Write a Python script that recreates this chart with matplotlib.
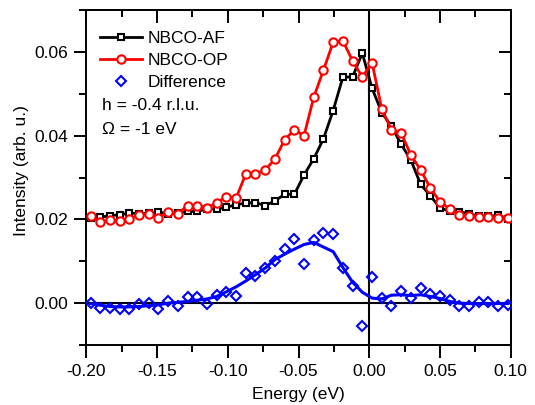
import matplotlib
matplotlib.use("Agg")
import matplotlib.pyplot as plt
from matplotlib.lines import Line2D
from matplotlib.ticker import MultipleLocator, FormatStrFormatter

plt.rcParams['font.family'] = ['Liberation Sans', 'DejaVu Sans']
plt.rcParams['axes.unicode_minus'] = False

energy = [-0.1970, -0.1901, -0.1833, -0.1764, -0.1696, -0.1627, -0.1558, -0.1490, -0.1421, -0.1353,
          -0.1284, -0.1215, -0.1147, -0.1078, -0.1010, -0.0941, -0.0872, -0.0804, -0.0735, -0.0667,
          -0.0598, -0.0529, -0.0461, -0.0392, -0.0324, -0.0255, -0.0186, -0.0118, -0.0049, 0.0020,
          0.0089, 0.0157, 0.0226, 0.0294, 0.0363, 0.0432, 0.0500, 0.0569, 0.0637, 0.0706,
          0.0775, 0.0843, 0.0912, 0.0980]

nbco_af = [0.0203, 0.0205, 0.0209, 0.0211, 0.0215, 0.0214, 0.0215, 0.0218, 0.0213, 0.0215,
           0.0219, 0.0219, 0.0225, 0.0225, 0.0229, 0.0235, 0.0239, 0.0240, 0.0233, 0.0244,
           0.0260, 0.0260, 0.0306, 0.0345, 0.0392, 0.0460, 0.0540, 0.0540, 0.0597, 0.0513,
           0.0455, 0.0422, 0.0379, 0.0342, 0.0284, 0.0256, 0.0228, 0.0219, 0.0218, 0.0214,
           0.0207, 0.0207, 0.0210, 0.0202]

nbco_op = [0.0207, 0.0193, 0.0199, 0.0197, 0.0201, 0.0211, 0.0213, 0.0203, 0.0218, 0.0213,
           0.0233, 0.0233, 0.0227, 0.0240, 0.0254, 0.0251, 0.0309, 0.0309, 0.0318, 0.0344,
           0.0390, 0.0414, 0.0400, 0.0492, 0.0556, 0.0623, 0.0626, 0.0579, 0.0540, 0.0574,
           0.0463, 0.0414, 0.0406, 0.0354, 0.0318, 0.0275, 0.0242, 0.0225, 0.0210, 0.0207,
           0.0206, 0.0206, 0.0204, 0.0204]

difference = [0.0000, -0.0012, -0.0012, -0.0015, -0.0015, -0.0001, 0.0000, -0.0015, 0.0004, -0.0006,
              0.0014, 0.0014, -0.0002, 0.0020, 0.0027, 0.0016, 0.0073, 0.0066, 0.0084, 0.0100,
              0.0130, 0.0154, 0.0094, 0.0150, 0.0167, 0.0164, 0.0085, 0.0040, -0.0055, 0.0063,
              0.0012, -0.0008, 0.0030, 0.0012, 0.0036, 0.0022, 0.0016, 0.0007, -0.0008, -0.0006,
              0.0002, 0.0002, -0.0006, -0.0004]

difference_smooth = [-0.0001, -0.0005, -0.0008, -0.0009, -0.0009, -0.0008, -0.0006, -0.0004, 0.0000, 0.0002,
                     0.0004, 0.0007, 0.0010, 0.0016, 0.0027, 0.0039, 0.0053, 0.0068, 0.0084, 0.0104,
                     0.0117, 0.0129, 0.0140, 0.0145, 0.0134, 0.0123, 0.0085, 0.0050, 0.0026, 0.0012,
                     0.0010, 0.0019, 0.0020, 0.0018, 0.0020, 0.0016, 0.0011, 0.0004, 0.0000, -0.0001,
                     -0.0001, -0.0001, -0.0001, -0.0001]

labels = ["NBCO-AF", "NBCO-OP", "Difference"]
annotations = ["h = -0.4 r.l.u.", "\u03a9 = -1 eV"]

FS = 12.5
LW = 2.0
MEW = 1.5

fig = plt.figure(figsize=(5.35, 4.05), dpi=100)
ax = fig.add_axes([0.1613, 0.1481, 0.7933, 0.8272])

ax.axhline(0, color='black', lw=1.5, zorder=1)
ax.axvline(0, color='black', lw=1.5, zorder=1)

ax.plot(energy, nbco_af, color='black', lw=LW, marker='s', ms=5.0, mfc='white',
        mec='black', mew=MEW, zorder=3)
ax.plot(energy, nbco_op, color='red', lw=LW, marker='o', ms=6.0, mfc='white',
        mec='red', mew=MEW, zorder=4)
ax.plot(energy, difference_smooth, color='blue', lw=2.2, zorder=2)
ax.plot(energy, difference, ls='none', marker='D', ms=5.3, mfc='none',
        mec='blue', mew=MEW, zorder=5)

ax.set_xlim(-0.20, 0.10)
ax.set_ylim(-0.01, 0.07)
ax.xaxis.set_major_locator(MultipleLocator(0.05))
ax.xaxis.set_minor_locator(MultipleLocator(0.025))
ax.yaxis.set_major_locator(MultipleLocator(0.02))
ax.yaxis.set_minor_locator(MultipleLocator(0.01))
ax.xaxis.set_major_formatter(FormatStrFormatter('%.2f'))
ax.yaxis.set_major_formatter(FormatStrFormatter('%.2f'))

for sp in ax.spines.values():
    sp.set_linewidth(1.4)

ax.tick_params(which='both', direction='out', top=False, right=False, width=1.4, labelsize=FS)
ax.tick_params(which='major', length=9)
ax.tick_params(axis='x', which='major', pad=5)
ax.tick_params(axis='y', which='major', pad=4)
ax.tick_params(which='minor', length=5)

# mirrored inner ticks on top and right
axt = ax.secondary_xaxis('top')
axt.xaxis.set_major_locator(MultipleLocator(0.05))
axt.xaxis.set_minor_locator(MultipleLocator(0.025))
axt.tick_params(which='both', direction='in', width=1.4, labeltop=False)
axt.tick_params(which='major', length=9)
axt.tick_params(which='minor', length=5)
axt.spines['top'].set_linewidth(1.4)
axr = ax.secondary_yaxis('right')
axr.yaxis.set_major_locator(MultipleLocator(0.02))
axr.yaxis.set_minor_locator(MultipleLocator(0.01))
axr.tick_params(which='both', direction='in', width=1.4, labelright=False)
axr.tick_params(which='major', length=9)
axr.tick_params(which='minor', length=5)
axr.spines['right'].set_linewidth(1.4)

ax.set_xlabel("Energy (eV)", fontsize=FS, labelpad=5.5)
ax.set_ylabel("Intensity (arb. u.)", fontsize=FS)
ax.yaxis.set_label_coords(-0.134, 0.522)

handles = [
    Line2D([], [], color='black', lw=LW, marker='s', ms=5.0, mfc='white', mec='black', mew=MEW),
    Line2D([], [], color='red', lw=LW, marker='o', ms=6.0, mfc='white', mec='red', mew=MEW),
    Line2D([], [], ls='none', marker='D', ms=5.3, mfc='none', mec='blue', mew=MEW),
]
ax.legend(handles, labels, loc='upper left', bbox_to_anchor=(0.0323, 0.937), frameon=False,
          fontsize=FS, handlelength=2.4, handletextpad=0.35, labelspacing=0.4,
          borderpad=0, borderaxespad=0, numpoints=1)

ax.text(0.036, 0.7155, annotations[0], transform=ax.transAxes, fontsize=FS, va='center', ha='left')
ax.text(0.036, 0.644, annotations[1], transform=ax.transAxes, fontsize=FS, va='center', ha='left')

fig.savefig("out.png", dpi=100)
